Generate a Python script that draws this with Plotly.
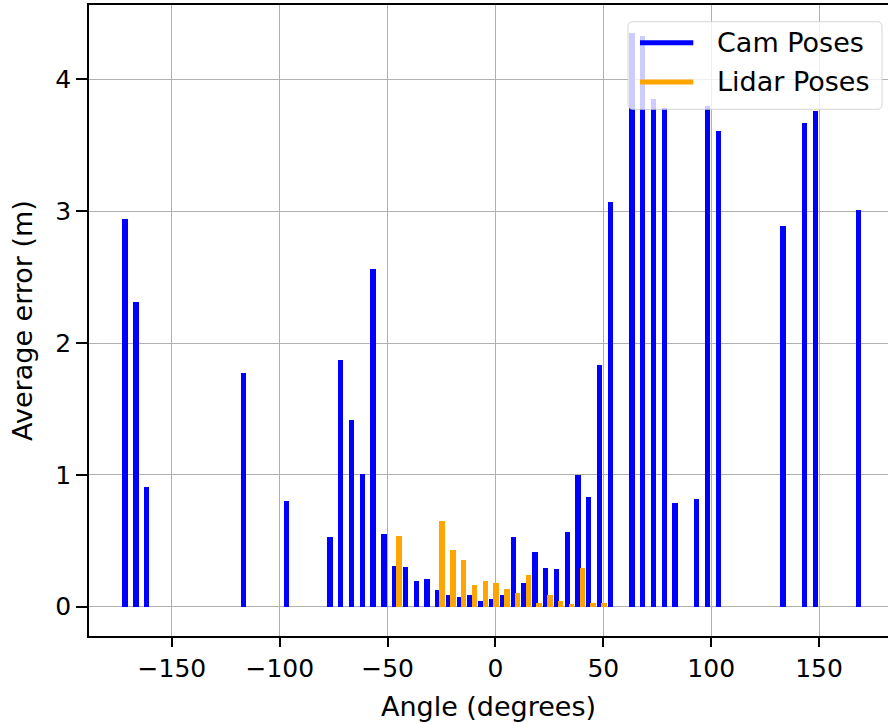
import plotly.graph_objects as go

# ---- data ----
cam_angles = [-171.75, -166.75, -161.75, -116.75, -96.75, -76.75, -71.75, -66.75,
              -61.75, -56.75, -51.75, -46.75, -41.75, -36.75, -31.75, -26.75,
              -21.75, -16.75, -11.75, -6.75, -1.75, 3.25, 8.25, 13.25, 18.25,
              23.25, 28.25, 33.25, 38.25, 43.25, 48.25, 53.25, 63.25, 68.25,
              73.25, 78.25, 83.25, 93.25, 98.25, 103.25, 133.25, 143.25, 148.25,
              168.25]
cam_errors = [2.94, 2.31, 0.91, 1.77, 0.80, 0.53, 1.87, 1.42,
              1.01, 2.56, 0.55, 0.31, 0.30, 0.195, 0.21, 0.13,
              0.09, 0.076, 0.089, 0.046, 0.058, 0.089, 0.53, 0.178, 0.418,
              0.296, 0.284, 0.565, 1.00, 0.835, 1.835, 3.07, 4.35, 4.33,
              3.85, 3.78, 0.79, 0.82, 3.80, 3.61, 2.89, 3.67, 3.76,
              3.01]

lidar_angles = [-44.75, -24.75, -19.75, -14.75, -9.75, -4.75, 0.25, 5.25, 10.25,
                15.25, 20.25, 25.25, 30.25, 35.25, 40.25, 45.25, 50.25]
lidar_errors = [0.537, 0.653, 0.43, 0.355, 0.165, 0.195, 0.178, 0.132, 0.102,
                0.241, 0.030, 0.087, 0.046, 0.018, 0.296, 0.030, 0.030]

series_names = ["Cam Poses", "Lidar Poses"]

x_ticks = [-150, -100, -50, 0, 50, 100, 150]
x_tick_labels = ["\u2212150", "\u2212100", "\u221250", "0", "50", "100", "150"]
y_ticks = [0, 1, 2, 3, 4]
y_tick_labels = ["0", "1", "2", "3", "4"]

FONT = "DejaVu Sans"
TXT = "black"
BLUE = "#0000ff"
ORANGE = "#ffa500"
BAR_W = 2.5

fig = go.Figure()
fig.add_trace(go.Bar(x=cam_angles, y=cam_errors, width=BAR_W,
                     marker=dict(color=BLUE, line=dict(width=0)),
                     showlegend=False, name=series_names[0]))
fig.add_trace(go.Bar(x=lidar_angles, y=lidar_errors, width=BAR_W,
                     marker=dict(color=ORANGE, line=dict(width=0)),
                     showlegend=False, name=series_names[1]))

# ---- legend (matplotlib-style: rounded box, long line handles) ----
lx0, lx1, ly_top, ly_bot = 0.6746, 0.9925, 0.9735, 0.8347
rx, ry = 5 / 799, 5 / 631
box_path = (f"M {lx0+rx},{ly_top} L {lx1-rx},{ly_top} Q {lx1},{ly_top} {lx1},{ly_top-ry} "
            f"L {lx1},{ly_bot+ry} Q {lx1},{ly_bot} {lx1-rx},{ly_bot} "
            f"L {lx0+rx},{ly_bot} Q {lx0},{ly_bot} {lx0},{ly_bot+ry} "
            f"L {lx0},{ly_top-ry} Q {lx0},{ly_top} {lx0+rx},{ly_top} Z")
shapes = [dict(type="path", path=box_path, xref="paper", yref="paper",
               fillcolor="rgba(255,255,255,0.8)",
               line=dict(color="rgba(204,204,204,0.8)", width=1), layer="above")]
annotations = []
for name, color, yy in zip(series_names, [BLUE, ORANGE], [0.9403, 0.8780]):
    shapes.append(dict(type="line", xref="paper", yref="paper",
                       x0=0.6896, x1=0.7563, y0=yy, y1=yy,
                       line=dict(color=color, width=5), layer="above"))
    annotations.append(dict(text=name, xref="paper", yref="paper", x=0.7835, y=yy,
                            xanchor="left", yanchor="middle", showarrow=False,
                            font=dict(family=FONT, size=27, color=TXT)))

fig.update_layout(
    width=888, height=724,
    margin=dict(l=89, r=0, t=5, b=88),
    paper_bgcolor="white", plot_bgcolor="white",
    barmode="overlay", bargap=0, showlegend=False,
    font=dict(family=FONT, size=25, color=TXT),
    shapes=shapes, annotations=annotations,
    xaxis=dict(range=[-188.45, 181.97], tickmode="array", tickvals=x_ticks,
               ticktext=x_tick_labels, showgrid=True, gridcolor="#b0b0b0",
               gridwidth=1.2, zeroline=False, showline=True, linecolor="black",
               linewidth=1.6, mirror=True, ticks="outside", ticklen=9,
               tickwidth=1.5, tickcolor="black",
               tickfont=dict(family=FONT, size=25, color=TXT),
               title=dict(text="Angle (degrees)", standoff=15,
                          font=dict(family=FONT, size=27, color=TXT))),
    yaxis=dict(range=[-0.2225, 4.565], tickmode="array", tickvals=y_ticks,
               ticktext=y_tick_labels, showgrid=True, gridcolor="#b0b0b0",
               gridwidth=1.2, zeroline=False, showline=True, linecolor="black",
               linewidth=1.6, mirror=False, ticks="outside", ticklen=11,
               tickwidth=1.5, tickcolor="black",
               tickfont=dict(family=FONT, size=25, color=TXT),
               title=dict(text="Average error (m)", standoff=15,
                          font=dict(family=FONT, size=27, color=TXT))),
)

fig.write_html("out.html")
